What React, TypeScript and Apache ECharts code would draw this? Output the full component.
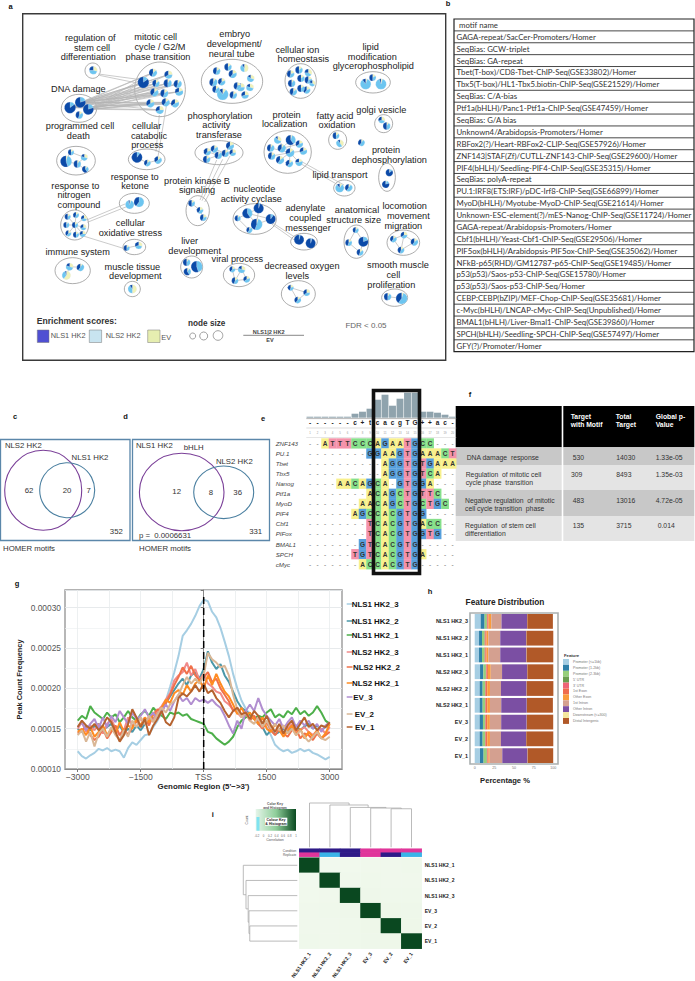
import React, { useEffect, useRef } from "react";
import * as echarts from "echarts";

const F = "Liberation Sans";

// ---------- panel g: peak count frequency (values in 1e-5 units)
const tssX = [-3000,-2900,-2800,-2700,-2600,-2500,-2400,-2300,-2200,-2100,-2000,-1900,-1800,-1700,-1600,-1500,-1400,-1300,-1200,-1100,-1000,-900,-800,-700,-600,-500,-400,-300,-200,-100,0,100,200,300,400,500,600,700,800,900,1000,1100,1200,1300,1400,1500,1600,1700,1800,1900,2000,2100,2200,2300,2400,2500,2600,2700,2800,2900,3000];
const nls1_3 = [12.2,11.6,11.3,11.7,12.0,12.5,12.3,12.6,12.2,12.4,12.2,11.4,12.6,13.3,13.0,13.6,14.2,14.3,15.2,16.0,17.0,18.5,20.2,22.0,24.0,26.5,27.2,28.0,29.0,30.2,31.0,30.8,29.5,28.8,27.5,25.8,24.0,21.8,20.0,18.5,17.5,16.8,16.2,16.0,15.8,15.2,14.2,13.0,12.5,12.2,12.4,12.0,12.2,12.5,12.2,12.4,12.0,11.8,11.5,11.2,11.5];
const nls1_2 = [15.0,14.6,15.4,14.8,15.3,15.6,14.9,15.2,15.6,14.7,15.4,14.5,15.0,14.6,15.4,14.8,15.6,15.9,16.2,16.8,17.4,18.2,19.0,19.8,20.6,21.2,20.4,21.6,22.0,21.2,22.4,24.6,23.2,22.4,23.0,21.6,20.8,19.6,18.4,17.6,17.2,16.8,16.4,15.6,15.2,14.2,14.8,14.3,14.6,15.0,14.5,15.2,15.4,14.8,15.3,15.6,15.0,15.4,14.8,15.2,15.6];
const nls1_1 = [16.0,16.6,16.2,17.8,17.0,16.6,16.2,17.0,16.4,16.8,15.8,16.4,17.2,16.4,16.0,16.8,17.2,16.6,17.6,17.0,16.6,16.2,17.0,16.8,17.0,16.6,16.8,16.2,16.0,15.8,15.6,14.6,14.4,13.8,13.4,13.0,13.4,14.0,15.2,16.0,16.4,16.8,16.2,16.6,16.4,17.0,17.4,16.4,16.8,16.4,17.2,16.8,17.6,16.8,17.2,16.6,17.0,17.8,17.0,16.0,15.6];
const nls2_3 = [15.0,15.8,14.6,15.4,14.8,15.6,14.4,15.6,16.2,15.0,14.2,14.8,16.4,15.4,15.8,16.2,15.6,16.4,16.0,17.2,17.8,18.6,19.4,21.0,21.6,22.0,23.2,21.6,22.4,21.0,21.8,20.6,20.2,19.6,19.4,18.4,18.0,17.4,17.0,16.4,17.2,16.2,16.6,15.8,15.2,15.8,15.0,15.6,14.8,15.4,15.0,15.6,14.4,14.8,15.2,14.6,14.2,14.8,15.0,14.4,15.2];
const nls2_2 = [14.4,14.8,15.2,14.2,13.6,14.0,15.0,13.8,14.6,15.4,14.2,15.0,14.2,15.2,16.0,15.2,16.4,15.4,16.8,17.4,17.0,18.2,19.2,20.4,21.4,22.6,21.8,22.8,21.6,21.0,21.4,22.0,20.8,21.2,20.0,19.2,18.4,17.2,17.6,16.6,17.0,16.0,16.6,15.6,15.0,15.8,14.8,14.2,15.0,14.4,14.0,14.8,15.0,13.8,14.4,14.2,13.6,14.4,13.8,14.2,14.6];
const nls2_1 = [14.6,15.0,14.2,15.2,14.0,14.6,15.4,14.2,15.0,14.4,15.8,14.6,15.4,15.0,16.2,15.4,16.4,15.8,17.0,16.6,17.6,18.6,18.2,19.4,19.8,19.2,20.4,19.6,20.6,21.0,20.0,21.6,20.4,21.8,20.6,19.6,19.0,18.0,16.8,17.6,16.6,17.0,16.2,15.6,16.4,15.0,14.6,15.6,14.8,14.0,14.8,15.4,14.2,15.0,13.8,14.6,14.0,14.8,13.8,14.4,15.6];
const ev_3 = [15.2,15.8,14.8,15.6,16.2,15.0,16.4,15.2,16.6,15.8,17.2,16.4,15.6,17.0,16.2,16.6,17.4,16.4,17.0,16.2,17.2,18.0,17.2,18.4,19.2,18.4,18.8,18.0,18.8,18.4,18.6,18.2,18.6,18.0,17.6,16.6,15.4,14.4,16.0,15.0,17.2,18.0,17.2,18.8,17.4,16.6,16.0,15.4,16.2,15.0,15.8,16.4,15.2,16.0,15.4,16.0,15.0,15.6,14.6,15.4,15.8];
const ev_2 = [14.2,14.8,13.4,14.6,12.8,14.4,15.0,14.0,15.2,14.2,13.6,14.8,14.0,16.0,15.2,16.4,15.6,16.6,15.8,16.8,17.6,17.0,18.0,18.4,19.2,20.4,21.4,20.6,21.2,20.6,21.6,24.4,23.6,23.2,22.6,22.8,21.6,19.2,17.4,16.4,17.0,16.0,15.6,16.4,15.2,16.0,15.0,15.6,14.8,15.4,14.4,15.0,14.2,14.8,14.0,13.4,14.0,14.6,13.8,13.6,14.0];
const ev_1 = [15.2,16.0,15.4,15.0,15.6,14.8,15.4,16.4,15.8,14.6,13.4,14.2,15.6,17.4,16.4,15.2,16.2,14.2,15.4,16.2,17.2,15.8,15.4,16.4,18.8,19.4,19.0,19.6,20.4,19.6,20.6,19.4,19.8,18.8,18.2,17.2,16.4,17.2,17.6,16.8,17.0,16.2,17.2,16.6,15.6,16.6,15.4,14.6,15.6,14.4,15.4,16.0,14.8,15.6,16.4,15.2,15.6,14.8,15.4,15.2,15.8];
const gNames = ["NLS1 HK2_3","NLS1 HK2_2","NLS1 HK2_1","NLS2 HK2_3","NLS2 HK2_2","NLS2 HK2_1","EV_3","EV_2","EV_1"];
const gColors = ["#a6cee3","#4a97a8","#4daf4a","#f08a8a","#f0704a","#ff8c22","#b18ed0","#d9b796","#b5622f"];
const gValues = [nls1_3,nls1_2,nls1_1,nls2_3,nls2_2,nls2_1,ev_3,ev_2,ev_1];
const gXLabels = [-3000,-1500,0,1500,3000];
const gXGrid = [-3000,-2250,-1500,-750,0,750,1500,2250,3000];
const gLegendY = [604,621,635,652,667,683,697,714,727];
const gLegendX = [351.7,351.7,351.7,351.7,353,352,353.3,354.7,355];

// ---------- panel h: feature distribution
const hCats = ["NLS1 HK2_3","NLS1 HK2_2","NLS1 HK2_1","NLS2 HK2_3","NLS2 HK2_2","NLS2 HK2_1","EV_3","EV_2","EV_1"];
const hFeatures = ["Promoter (<=1kb)","Promoter (1-2kb)","Promoter (2-3kb)","5' UTR","3' UTR","1st Exon","Other Exon","1st Intron","Other Intron","Downstream (<=300)","Distal Intergenic"];
const hColors = ["#a6cee3","#2f7fa8","#97cf7b","#6a9e4f","#ee6677","#ef6b4e","#f99b3c","#d4a090","#7b4fa3","#f5e79e","#b15928"];
const hValues = [
  [7.6,5.0,2.5,0.5,1.0,1.0,3.5,13.0,32.5,0.3,32.6],
  [5.5,3.8,3.0,0.5,0.7,1.5,2.5,15.0,33.0,0.3,34.2],
  [5.5,3.8,3.0,0.5,0.7,1.5,2.5,15.0,33.2,0.3,34.0],
  [6.8,4.2,3.0,0.5,0.8,1.5,3.6,14.4,32.0,0.2,33.0],
  [6.3,3.8,3.0,0.5,0.8,1.6,3.4,14.0,32.5,0.2,34.0],
  [6.3,3.8,3.0,0.5,0.8,1.6,3.4,14.4,32.5,0.2,33.0],
  [6.3,4.2,2.5,0.5,0.8,1.6,3.4,14.4,32.5,0.2,33.5],
  [6.3,3.8,3.0,0.5,0.8,1.6,3.4,14.0,32.0,0.2,34.4],
  [6.7,4.6,3.8,0.5,0.6,1.4,1.5,16.0,32.0,0.2,32.6],
];
const hTicks = [0,25,50,75,100];

// ---------- panel i: correlation heatmap
const iCols = ["NLS1 HK2_1","NLS1 HK2_2","NLS1 HK2_3","EV_3","EV_2","EV_1"];
const iMatrix = [
  [1,0.06,0.07,0.09,0.08,0.10],
  [0.06,1,0.08,0.10,0.09,0.09],
  [0.07,0.08,1,0.11,0.10,0.10],
  [0.09,0.10,0.11,1,0.12,0.11],
  [0.08,0.09,0.10,0.12,1,0.12],
  [0.10,0.09,0.10,0.11,0.12,1],
];
const iAnnotRows = ["Condition","Replicate"];
const iCondition = [0,0,0,1,1,1];
const iReplicate = [1,2,0,1,0,2];
// merges: [leftLeaf, rightLeaf, leftHeight, rightHeight, mergeHeight]
const topMerges = [
  [4.5,5.5,0,0,0.87],[3.5,5,0,0.87,0.886],[2.5,4.25,0,0.886,0.90],[1.5,3.375,0,0.90,0.955],[0.5,2.44,0,0.955,1],
];
const leftMerges = [
  [4.5,5.5,0,0,0.88],[3.5,5,0,0.88,0.895],[2.5,4.25,0,0.895,0.91],[1.5,3.375,0,0.91,0.95],[0.5,2.44,0,0.95,1],
];

// ---------- panel e: motif alignment
const eNames = ["ZNF143","PU.1","Tbet","Tbx5","Nanog","Ptf1a","MyoD","PIF4","Cbf1","PIFox","BMAL1","SPCH","cMyc"];
const eSeqs = [
  "--ATTTCCCAGAATGCC---","--------GGAAGTGAAACT","----------AGGTGTGAAA","----------AGGTGTCA--",
  "----AACAGCA-GTGGA---","--------ACAGCTGTTC--","-------AACAGCTGCTGC-","------AGCCACGTGG----",
  "--------TCACGTGACC--","--------TCACGTGGTG--","-------GTCACGTG-----","------TGTCACGTGA----","-------ACCACGTG-----",
];
const eConsensus = "------c+tcacgTG++ac-";
const eHist = [1,1,1,1,1,1,4,6,9,18,23,12,19,25,25,6,6,5,3,1];
const eLetterColor: any = { A:"#f8f08c", C:"#86e08a", G:"#569fdc", T:"#f492aa" };

// ---------- panel b
const motifNames = ["motif name","GAGA-repeat/SacCer-Promoters/Homer","SeqBias: GCW-triplet","SeqBias: GA-repeat","Tbet(T-box)/CD8-Tbet-ChIP-Seq(GSE33802)/Homer","Tbx5(T-box)/HL1-Tbx5.biotin-ChIP-Seq(GSE21529)/Homer","SeqBias: C/A-bias","Ptf1a(bHLH)/Panc1-Ptf1a-ChIP-Seq(GSE47459)/Homer","SeqBias: G/A bias","Unknown4/Arabidopsis-Promoters/Homer","RBFox2(?)/Heart-RBFox2-CLIP-Seq(GSE57926)/Homer","ZNF143|STAF(Zf)/CUTLL-ZNF143-ChIP-Seq(GSE29600)/Homer","PIF4(bHLH)/Seedling-PIF4-ChIP-Seq(GSE35315)/Homer","SeqBias: polyA-repeat","PU.1:IRF8(ETS:IRF)/pDC-Irf8-ChIP-Seq(GSE66899)/Homer","MyoD(bHLH)/Myotube-MyoD-ChIP-Seq(GSE21614)/Homer","Unknown-ESC-element(?)/mES-Nanog-ChIP-Seq(GSE11724)/Homer","GAGA-repeat/Arabidopsis-Promoters/Homer","Cbf1(bHLH)/Yeast-Cbf1-ChIP-Seq(GSE29506)/Homer","PIF5ox(bHLH)/Arabidopsis-PIF5ox-ChIP-Seq(GSE35062)/Homer","NFkB-p65(RHD)/GM12787-p65-ChIP-Seq(GSE19485)/Homer","p53(p53)/Saos-p53-ChIP-Seq(GSE15780)/Homer","p53(p53)/Saos-p53-ChIP-Seq/Homer","CEBP:CEBP(bZIP)/MEF-Chop-ChIP-Seq(GSE35681)/Homer","c-Myc(bHLH)/LNCAP-cMyc-ChIP-Seq(Unpublished)/Homer","BMAL1(bHLH)/Liver-Bmal1-ChIP-Seq(GSE39860)/Homer","SPCH(bHLH)/Seedling-SPCH-ChIP-Seq(GSE57497)/Homer","GFY(?)/Promoter/Homer"];

// ---------- panel a: network (layout in 3x page units)
const nodesDna = [[210,323,17,.85,.15,0],[241,307,16,.8,.2,0],[265,328,16,.8,.2,0],[238,345,11,.45,.4,.15]];
const nodesMitotic = [[430,247,17,.85,.15,0],[459,218,12,.45,.4,.15],[505,224,12,.35,.4,.25],[533,252,12,.45,.45,.1],[503,250,12,.5,.4,.1],[463,277,12,.4,.45,.15],[493,280,12,.45,.4,.15],[537,275,12,.3,.5,.2],[451,310,12,.35,.45,.2],[497,307,12,.4,.45,.15],[525,310,12,.35,.45,.2],[479,330,12,.3,.45,.25],[468,250,11,.45,.4,.15]];
const nodesOther = [
  [280,211,12,.25,.45,.3],
  [650,213,11,.45,.4,.15],[684,201,11,.5,.35,.15],[733,204,12,.1,.4,.5],[640,247,12,.45,.45,.1],[665,245,11,.4,.4,.2],[698,222,12,.4,.4,.2],[722,262,12,.3,.45,.25],[752,235,11,.15,.55,.3],[750,262,11,.2,.5,.3],[668,283,17,.1,.8,.1],[712,258,11,.45,.35,.2],[648,268,11,.45,.4,.15],[735,285,11,.3,.45,.25],[700,285,11,.45,.4,.15],
  [872,222,11,.45,.35,.2],[897,210,11,.5,.35,.15],[925,218,11,.25,.4,.35],[875,250,11,.5,.4,.1],[903,235,11,.5,.35,.15],[925,240,11,.45,.35,.2],[880,275,11,.45,.4,.15],[920,270,11,.4,.4,.2],[903,265,11,.5,.35,.15],[937,250,9,.2,.45,.35],
  [1097,252,16,.1,.85,.05],[1118,233,10,.5,.35,.15],[1143,252,16,.05,.9,.05],
  [622,455,11,.4,.4,.2],[643,447,11,.4,.45,.15],[620,478,11,.5,.35,.15],[655,466,11,.45,.45,.1],[676,460,11,.45,.4,.15],[690,437,12,.4,.4,.2],[698,458,10,.35,.4,.25],
  [833,420,11,.1,.6,.3],[872,420,15,.6,.35,.05],[898,432,11,.35,.45,.2],[812,444,11,.45,.45,.1],[845,445,12,.4,.5,.1],[870,458,13,.3,.55,.15],[910,453,11,.3,.5,.2],[815,468,11,.45,.4,.15],[840,480,12,.4,.45,.15],[868,490,11,.4,.45,.15],[897,487,11,.25,.55,.2],
  [1008,407,10,.5,.35,.15],[1020,430,11,.1,.5,.4],[1084,428,10,.4,.5,.1],[1145,360,10,.3,.4,.3],[1160,378,11,.5,.4,.1],
  [1168,518,11,.85,.1,.05],[1157,553,11,.8,.15,.05],
  [411,472,16,.9,.1,0],[442,489,10,.4,.45,.15],[474,480,11,.35,.5,.15],
  [198,484,17,.55,.4,.05],[213,457,9,.5,.35,.15],[253,472,10,.2,.5,.3],[232,492,11,.5,.4,.1],[256,508,10,.6,.3,.1],
  [389,614,13,.05,.9,.05],[417,606,15,.4,.6,0],
  [203,650,9,.5,.35,.15],[228,645,9,.45,.4,.15],[252,655,9,.3,.4,.3],[199,675,9,.5,.4,.1],[225,675,9,.5,.35,.15],[250,682,9,.3,.4,.3],[205,700,9,.4,.4,.2],[228,704,9,.5,.35,.15],[248,702,9,.3,.45,.25],
  [380,744,9,.5,.35,.15],[416,736,11,.3,.4,.3],
  [1019,564,13,.1,.8,.1],[1046,563,11,.4,.5,.1],
  [575,610,10,.5,.35,.15],[600,631,10,.4,.4,.2],[610,653,10,.45,.35,.2],
  [776,625,15,.95,.05,0],[742,640,15,.6,.4,0],[812,657,15,.9,.1,0],[713,655,9,.5,.4,.1],[770,673,17,.45,.5,.05],[748,690,9,.4,.5,.1],
  [897,719,15,.95,.05,0],[932,730,15,.95,.05,0],
  [1067,690,9,.45,.4,.15],[1090,725,15,.8,.2,0],[1046,728,10,.45,.4,.15],[1080,757,10,.45,.4,.15],
  [1180,717,10,.4,.45,.15],[1212,705,10,.35,.4,.25],[1243,726,11,.4,.45,.15],[1203,750,10,.45,.4,.15],
  [560,787,11,.5,.4,.1],[590,800,17,.55,.45,0],[562,815,11,.6,.3,.1],
  [697,808,9,.4,.4,.2],[725,808,11,.2,.5,.3],[705,842,10,.45,.4,.15],[740,838,10,.35,.45,.2],
  [209,800,11,.2,.5,.3],[241,802,11,.4,.5,.1],[199,826,13,.05,.35,.6],
  [397,867,13,.1,.4,.5],
  [872,863,9,.45,.35,.2],[920,878,10,.35,.4,.25],[893,900,10,.4,.45,.15],
  [1163,890,11,.5,.4,.1],[1205,895,17,.4,.55,.05],
];
const groupEllipses = [[278,212,23,23],[480,268,76,82],[696,244,92,66],[902,243,47,52],[1119,247,52,32],[237,325,53,42],[657,458,72,36],[863,456,71,64],[1013,420,27,28],[1151,371,27,27],[1161,532,25,42],[440,478,55,31],[228,482,58,43],[403,610,45,30],[224,675,42,45],[1033,564,32,24],[593,632,35,45],[764,657,65,46],[912,725,40,25],[1069,725,37,50],[1210,728,49,38],[403,741,34,23],[575,801,33,33],[717,825,47,35],[218,812,53,39],[397,867,24,23],[895,882,51,40],[1184,893,39,26]];
const extraEdges = [[295,222,430,240],[298,226,440,255],[478,345,468,455],[500,312,474,470],[600,600,650,480],[606,602,668,478],[614,606,690,468],[260,660,375,612],[262,667,380,620],[250,708,370,745],[900,490,1015,555],[905,485,1032,555],[812,665,895,718],[815,672,890,725],[210,457,198,484],[213,457,253,472],[198,484,232,492],[232,492,256,508],[253,472,232,492],[411,472,442,489],[442,489,474,480],[1067,690,1090,725],[1067,690,1046,728],[1090,725,1080,757],[1046,728,1080,757],[1180,717,1212,705],[1212,705,1243,726],[1243,726,1203,750],[1180,717,1203,750],[1212,705,1203,750],[697,808,725,808],[697,808,705,842],[725,808,740,838],[705,842,740,838],[725,808,705,842],[872,863,920,878],[872,863,893,900],[920,878,893,900],[1163,890,1205,895],[209,800,199,826],[241,802,209,800],[575,610,600,631],[600,631,610,653],[380,744,416,736],[1019,564,1046,563],[713,655,776,625],[742,640,812,657],[742,640,770,673],[776,625,770,673],[812,657,770,673],[713,655,748,690],[770,673,748,690],[833,420,870,458],[872,420,845,445],[898,432,845,445],[812,444,870,458],[910,453,870,458],[815,468,870,458],[840,480,870,458],[868,490,870,458],[897,487,870,458],[872,420,870,458],[622,455,655,466],[643,447,676,460],[620,478,655,466],[655,466,676,460],[676,460,690,437],[203,650,225,675],[228,645,225,675],[252,655,225,675],[199,675,225,675],[250,682,225,675],[205,700,225,675],[228,704,225,675],[248,702,225,675]];
const netLabels: any[] = [["regulation of",271,114],["stem cell",276,143],["differentiation",265,172],["mitotic cell",467,111],["cycle / G2/M",480,141],["phase transition",474,170],["embryo",704,103],["development/",703,132],["neural tube",695,161],["cellular ion",892,149],["homeostasis",910,178],["lipid",1112,140],["modification",1117,170],["glycerophospholipid",1120,199],["DNA damage",235,267],["programmed cell",240,379],["death",235,408],["cellular",440,378],["catabolic",447,407],["process",442,436],["phosphorylation",660,347],["activity",649,376],["transferase",657,405],["protein",860,344],["localization",854,373],["fatty acid",1005,347],["oxidation",1011,376],["golgi vesicle",1144,329],["protein",1158,451],["dephosphorylation",1168,481],["lipid transport",1020,524],["response to",404,530],["ketone",405,559],["response to",226,557],["nitrogen",222,586],["compound",237,615],["protein kinase B",591,542],["signaling",591,571],["nucleotide",763,567],["activity cyclase",754,596],["adenylate",916,625],["coupled",916,655],["messenger",924,685],["anatomical",1071,630],["structure size",1061,660],["locomotion",1214,618],["movement",1225,648],["migration",1210,677],["cellular",391,670],["oxidative stress",391,699],["liver",569,724],["development",584,754],["immune system",233,757],["viral process",712,776],["muscle tissue",397,800],["development",406,829],["decreased oxygen",906,798],["levels",892,827],["smooth muscle",1194,795],["cell",1180,825],["proliferation",1174,854]];

// ---------- panel f
const fHeaders: any[] = [["Target",570.7,416],["with Motif",570.7,424.3],["Total",615.7,416],["Target",615.7,424.3],["Global p-",655.7,416],["Value",655.7,424.3]];
const fCells: any[] = [["DNA damage  response",466.7,457.3],["530",572.7,457],["14030",616.3,457],["1.33e-05",655.7,457],["Regulation  of mitotic cell",465.7,474.3],["cycle phase  transition",465.7,482.3],["309",571,474.3],["8493",616.3,474.3],["1.35e-03",655.7,474.3],["Negative regulation  of mitotic",465,500],["cell cycle transition  phase",465,508.3],["483",572.7,500],["13016",616.3,500],["4.72e-05",655.7,500],["Regulation  of stem cell",465,525],["differentiation",465,533.3],["135",572.7,525],["3715",616.3,525],["0.014",657.7,525]];

const T = (text: string, x: number, y: number, o: any = {}) => ({
  type: "text", x, y, z: o.z ?? 60, silent: true, rotation: o.r ?? 0,
  style: { text, fontFamily: o.f ?? F, fontSize: o.s ?? 8, fill: o.c ?? "#222", fontWeight: o.w ?? "normal", fontStyle: o.i ?? "normal",
    textAlign: o.a ?? "left", textVerticalAlign: "middle", align: o.a ?? "left", verticalAlign: "middle" },
});
const R = (x: number, y: number, w: number, h: number, style: any, z = 1) => ({ type: "rect", z, silent: true, shape: { x, y, width: w, height: h }, style });
const C = (cx: number, cy: number, r: number, stroke: string, lw: number, z = 3, rx?: number) => (
  rx ? { type: "ellipse", z, silent: true, shape: { cx, cy, rx, ry: r }, style: { fill: "none", stroke, lineWidth: lw } }
     : { type: "circle", z, silent: true, shape: { cx, cy, r }, style: { fill: "none", stroke, lineWidth: lw } });
const L = (x1: number, y1: number, x2: number, y2: number, stroke: string, lw = 1, z = 4) => ({ type: "line", z, silent: true, shape: { x1, y1, x2, y2 }, style: { stroke, lineWidth: lw } });

function buildGraphic() {
  const g: any[] = [];
  // panel letters
  ([["a",10.7,6.5],["b",448,3.5],["c",15,416],["d",125.6,416],["e",263,418],["f",470,394],["g",17,583],["h",430,591],["i",212.7,814]] as any[]).forEach(([t,x,y]) => g.push(T(t,x,y,{s:7.5,w:"bold",a:"center",c:"#111"})));
  // panel a frame + labels + legend
  g.push(R(22.7,13.7,423,346.5,{fill:"none",stroke:"#3a3a3a",lineWidth:1.4},2));
  netLabels.forEach(([t,x,y]) => g.push(T(t,x/3,y/3,{s:9.2,a:"center",c:"#222"})));
  g.push(T("Enrichment scores:",36.7,320.5,{s:8.6,w:"bold",c:"#333"}));
  g.push(R(37.3,330,11.7,12.5,{fill:"#4f4fd2",stroke:"#777",lineWidth:.5}));
  g.push(R(89.3,330,12.3,12.5,{fill:"#c8e4f0",stroke:"#777",lineWidth:.5}));
  g.push(R(147.7,330,12.3,12.5,{fill:"#e6eeb0",stroke:"#777",lineWidth:.5}));
  g.push(T("NLS1 HK2",50.7,335.5,{s:7.4,c:"#555"}));
  g.push(T("NLS2 HK2",105.7,335.5,{s:7.4,c:"#555"}));
  g.push(T("EV",161.3,337,{s:7.4,c:"#555"}));
  g.push(T("node size",206.7,323.5,{s:8.2,w:"bold",a:"center",c:"#333"}));
  g.push(C(192.7,336,3,"#888",.8),C(203.7,336,4,"#888",.8),C(218,335.5,4.8,"#888",.8));
  g.push(T("NLS1|2 HK2",268.7,331.5,{s:5.6,w:"bold",a:"center",c:"#444"}));
  g.push(L(243.3,335.3,304,335.3,"#555",.7));
  g.push(T("EV",270,340,{s:5.6,w:"bold",a:"center",c:"#444"}));
  g.push(T("FDR < 0.05",366,325.5,{s:8,a:"center",c:"#666"}));
  // panel b table
  const bTop = 19, bH = 332.7 / motifNames.length;
  g.push(R(454,bTop,240,332.7,{fill:"none",stroke:"#222",lineWidth:1.2},2));
  motifNames.forEach((t,i) => {
    if (i > 0) g.push(L(454,bTop+i*bH,694,bTop+i*bH,"#333",.9,2));
    g.push(T(t,i===0?459:456.5,bTop+(i+.5)*bH,{s:7.8,f:"Lato",c:"#333"}));
  });
  // panels c,d
  g.push(R(.5,439.5,129.5,101,{fill:"none",stroke:"#5b87aa",lineWidth:1.3},2));
  g.push(R(132.5,439.5,137,101,{fill:"none",stroke:"#5b87aa",lineWidth:1.3},2));
  g.push(C(43.2,490.3,40,"#7a3f98",1.1,3,38.5),C(67.2,490.2,27.5,"#4a7fa0",1.1));
  g.push(C(181.7,492,38.7,"#7a3f98",1.1,3,42.3),C(223.7,492.3,26.3,"#4a7fa0",1.1,3,30));
  const vs: any[] = [["NLS2 HK2",23.3,445],["NLS1 HK2",90,457],["62",29,490],["20",67,490],["7",88.7,490],["352",116.3,531.7],["HOMER motifs",29,548],["NLS1 HK2",154.3,445.3],["bHLH",193.7,447.3],["NLS2 HK2",234.3,461],["12",176.7,491.7],["8",211,492.3],["36",237.7,492.3],["331",255.7,531.7],["p =  0.0006631",165,535],["HOMER motifs",165,548]];
  vs.forEach(([t,x,y]) => g.push(T(t,x,y,{s:7.8,a:"center",c:"#333"})));
  // panel e labels
  eNames.forEach((n,i) => g.push(T(n,275.7,443.3+i*10.07,{s:6.2,i:"italic",c:"#444"})));
  for (let i = 0; i < 20; i++) {
    const cx = 310 + i * 7.5;
    g.push(T(eConsensus[i],cx,422.7,{s:6.5,w:"bold",a:"center",c:"#222"}));
    g.push(T(String(i+1),cx,433,{s:2.8,a:"center",c:"#999"}));
  }
  g.push(L(306.3,418.6,456.3,418.6,"#888",.6),L(306.3,428,456.3,428,"#bbb",.5),L(306.3,437.5,456.3,437.5,"#ccc",.5));
  g.push(R(373.5,390.5,46,183,{fill:"none",stroke:"#111",lineWidth:3.6},100));
  // panel f table
  g.push(R(455.7,406,106,41.3,{fill:"#000"}),R(563.3,406,131,41.3,{fill:"#000"}));
  ([[447.3,17.7,"#c8c8c8"],[465,25,"#e4e4e4"],[490,26,"#c8c8c8"],[516,25,"#e4e4e4"]] as any[]).forEach(([y,h,c]) => g.push(R(455.7,y,106,h,{fill:c}),R(563.3,y,131,h,{fill:c})));
  fHeaders.forEach(([t,x,y]) => g.push(T(t,x,y,{s:6.8,w:"bold",c:"#fff"})));
  fCells.forEach(([t,x,y]) => g.push(T(t,x,y,{s:6.8,c:"#333"})));
  // panel g legend
  gNames.forEach((n,i) => {
    g.push(L(346.7,gLegendY[i],352.5,gLegendY[i],gColors[i],1.5,5));
    g.push(T(n,gLegendX[i],gLegendY[i],{s:7.9,w:"bold",c:"#111"}));
  });
  // panel h texts
  g.push(T("Feature Distribution",505,601.7,{s:8.3,w:"bold",a:"center",c:"#222"}));
  g.push(T("Percentage %",505,780,{s:7.6,w:"bold",a:"center",c:"#222"}));
  g.push(T("Feature",564,655.3,{s:4.2,w:"bold",c:"#333"}));
  // panel i colour key
  g.push(R(255.7,809,40.3,21.7,{fill:new echarts.graphic.LinearGradient(0,0,1,0,[{offset:0,color:"#e6f5ea"},{offset:.5,color:"#8fce9a"},{offset:1,color:"#0a4a20"}])}));
  g.push(R(256.5,817,3,13.7,{fill:"#7fe3f0"}));
  g.push(R(265,817.7,22.3,8,{fill:"#fff"},2));
  g.push(T("Colour Key",276,819.8,{s:3.6,w:"bold",a:"center"}),T("& Histogram",276,823.6,{s:3.6,w:"bold",a:"center"}));
  g.push(T("Color Key",275,803.5,{s:3.4,w:"bold",a:"center",c:"#555"}),T("and Histogram",275,807.5,{s:3.4,w:"bold",a:"center",c:"#555"}));
  (["-0.2","0","0.2","0.4","0.6","0.8","1"]).forEach((t,i) => g.push(T(t,257+i*6.5,836,{s:2.8,a:"center",c:"#666"})));
  g.push(T("Correlation",275,839.5,{s:3.6,a:"center",c:"#555"}));
  g.push(T("Count",246.7,820,{s:3.4,a:"center",c:"#555",r:Math.PI/2}));
  return g;
}

const netNodes = [...nodesDna, ...nodesMitotic, ...nodesOther];
const fanEdges: number[][] = [];
nodesDna.slice(0,3).forEach(a => nodesMitotic.forEach(b => fanEdges.push([a[0],a[1],b[0],b[1]])));
const netEdges = [...fanEdges, ...extraEdges];

const hiddenVal = (i: number, min: number, max: number, inverse = false) => ({ type: "value", gridIndex: i, min, max, inverse, show: false });

function renderPie(_p: any, api: any) {
  const [cx, cy] = api.coord([api.value(0), api.value(1)]);
  const r = api.size([api.value(2), 0])[0];
  const shares = [[api.value(5), "#f0f2b8"], [api.value(4), "#6cc5f0"], [api.value(3), "#0b4aa8"]];
  let a = -Math.PI / 2;
  const children: any[] = [];
  shares.forEach(([f, color]: any) => {
    if (f <= 0) return;
    children.push({ type: "sector", shape: { cx, cy, r, r0: 0, startAngle: a, endAngle: a + f * Math.PI * 2, clockwise: true }, style: { fill: color, stroke: "#dfe7ee", lineWidth: .2 } });
    a += f * Math.PI * 2;
  });
  return { type: "group", children };
}
function renderEllipse(_p: any, api: any) {
  const [cx, cy] = api.coord([api.value(0), api.value(1)]);
  const s = api.size([api.value(2), api.value(3)]);
  return { type: "ellipse", shape: { cx, cy, rx: s[0], ry: s[1] }, style: { fill: "#fff", stroke: "#8a8a8a", lineWidth: .7 } };
}
function renderEdge(_p: any, api: any) {
  const a = api.coord([api.value(0), api.value(1)]);
  const b = api.coord([api.value(2), api.value(3)]);
  return { type: "line", shape: { x1: a[0], y1: a[1], x2: b[0], y2: b[1] }, style: { stroke: "#b4b4b4", lineWidth: .7 } };
}
function renderTopTree(_p: any, api: any) {
  const [xa, xb, ha, hb, hm] = [0,1,2,3,4].map(i => api.value(i));
  const pts = [api.coord([xa,ha]), api.coord([xa,hm]), api.coord([xb,hm]), api.coord([xb,hb])];
  return { type: "polyline", shape: { points: pts }, style: { fill: "none", stroke: "#aaa", lineWidth: .8 } };
}
function renderLeftTree(_p: any, api: any) {
  const [ya, yb, ha, hb, hm] = [0,1,2,3,4].map(i => api.value(i));
  const pts = [api.coord([ha,ya]), api.coord([hm,ya]), api.coord([hm,yb]), api.coord([hb,yb])];
  return { type: "polyline", shape: { points: pts }, style: { fill: "none", stroke: "#aaa", lineWidth: .8 } };
}
function renderCell(_p: any, api: any) {
  const col = api.value(0), row = api.value(1), ch = eSeqs[row][col];
  const [x, y] = api.coord([col, row]);
  const [w, h] = api.size([1, 1]);
  const cx = x + w / 2, cy = y + h / 2;
  const kids: any[] = [];
  if (ch !== "-") kids.push({ type: "rect", shape: { x, y, width: w + .2, height: h + .2 }, style: { fill: eLetterColor[ch] } });
  kids.push({ type: "text", x: cx, y: cy, style: { text: ch, fontFamily: F, fontSize: 6.5, fontWeight: ch === "-" ? "normal" : "bold", fill: ch === "-" ? "#777" : "#333", textAlign: "center", textVerticalAlign: "middle", align: "center", verticalAlign: "middle" } });
  return { type: "group", children: kids };
}

function buildOption() {
  const grid = [
    { left: 0, top: 0, width: 445, height: 370 },
    { left: 65, top: 590, width: 277, height: 179, show: true, borderColor: "#999", borderWidth: 1.4, backgroundColor: "#fff" },
    { left: 470, top: 613, width: 88, height: 151, show: true, borderColor: "#aab0b0", borderWidth: 1.6, backgroundColor: "#fff" },
    { left: 299.3, top: 857.7, width: 122.4, height: 91 },
    { left: 299.3, top: 848.7, width: 122.4, height: 8 },
    { left: 299.3, top: 803, width: 122.4, height: 44.3 },
    { left: 243.3, top: 857.7, width: 54, height: 91 },
    { left: 306.25, top: 392.7, width: 150, height: 25 },
    { left: 306.25, top: 438.3, width: 150, height: 130.9 },
  ];
  const xAxis: any[] = [
    hiddenVal(0, 0, 1335),
    { type: "value", gridIndex: 1, min: -3302, max: 3293, axisLine: { lineStyle: { color: "#888", width: 1 } }, splitLine: { show: false },
      axisTick: { customValues: gXLabels, length: 3, lineStyle: { color: "#777" } },
      axisLabel: { customValues: gXLabels, fontFamily: F, fontSize: 8.6, color: "#555", margin: 3, formatter: (v: number) => v === 0 ? "TSS" : String(v).replace("-", "−") },
      name: "Genomic Region (5'−>3')", nameLocation: "middle", nameGap: 13, nameTextStyle: { fontFamily: F, fontSize: 7.9, fontWeight: "bold", color: "#222" } },
    { type: "value", gridIndex: 1, min: -3302, max: 3293, axisLine: { show: false }, axisLabel: { show: false }, axisTick: { show: false, customValues: gXGrid }, splitLine: { show: true, lineStyle: { color: "#e8ecee", width: .8 } } },
    { type: "value", gridIndex: 2, min: -6, max: 106, splitLine: { show: false }, axisLine: { show: false },
      axisTick: { customValues: hTicks, length: 1.5, lineStyle: { color: "#888" } }, axisLabel: { customValues: hTicks, fontFamily: F, fontSize: 3.6, color: "#777", margin: 2 } },
    { type: "category", gridIndex: 3, data: iCols, axisLine: { show: false }, axisTick: { show: false }, axisLabel: { fontFamily: F, fontSize: 5, fontWeight: "bold", color: "#222", rotate: 55, margin: 4, interval: 0 } },
    { type: "category", gridIndex: 4, data: iCols, show: false },
    hiddenVal(5, 0, 6),
    hiddenVal(6, 0, 1, true),
    { type: "category", gridIndex: 7, data: eHist.map((_, i) => String(i + 1)), show: false },
    hiddenVal(8, 0, 20),
  ];
  const yAxis: any[] = [
    hiddenVal(0, 0, 1110, true),
    { type: "value", gridIndex: 1, min: 0.0001, max: 0.000322, interval: 0.00005, axisLine: { lineStyle: { color: "#888", width: 1 } },
      axisTick: { length: 3, lineStyle: { color: "#777" } }, minorTick: { show: false, splitNumber: 2 },
      splitLine: { show: true, lineStyle: { color: "#e4e8ea", width: .9 } }, minorSplitLine: { show: true, lineStyle: { color: "#eef1f2", width: .7 } },
      axisLabel: { fontFamily: F, fontSize: 8.4, color: "#555", margin: 4, formatter: (v: number) => v > 0.00031 ? "" : v.toFixed(5) },
      name: "Peak Count Frequency", nameLocation: "middle", nameGap: 42, nameTextStyle: { fontFamily: F, fontSize: 7.4, fontWeight: "bold", color: "#222" } },
    { type: "category", gridIndex: 2, inverse: true, data: hCats, axisLine: { show: false }, axisTick: { length: 1.5, lineStyle: { color: "#888" } }, axisLabel: { fontFamily: F, fontSize: 5.4, fontWeight: "bold", color: "#222", margin: 2, interval: 0 } },
    { type: "category", gridIndex: 3, inverse: true, position: "right", data: iCols, axisLine: { show: false }, axisTick: { show: false }, axisLabel: { fontFamily: F, fontSize: 5, fontWeight: "bold", color: "#222", margin: 3, interval: 0 } },
    { type: "category", gridIndex: 4, inverse: true, data: iAnnotRows, axisLine: { show: false }, axisTick: { show: false }, axisLabel: { fontFamily: F, fontSize: 3.2, color: "#555", margin: 3, interval: 0 } },
    hiddenVal(5, 0, 1),
    hiddenVal(6, 0, 6, true),
    { type: "value", gridIndex: 7, min: 0, max: 25, show: false },
    hiddenVal(8, 0, 13, true),
  ];
  const series: any[] = [];
  const custom = (name: string, xi: number, yi: number, renderItem: any, data: any[], z: number, dims?: number[]) =>
    series.push({ type: "custom", name, xAxisIndex: xi, yAxisIndex: yi, renderItem, data, z, silent: true, clip: false, encode: dims ? { x: dims[0], y: dims[1] } : undefined });
  custom("groups", 0, 0, renderEllipse, groupEllipses, 2, [0, 1]);
  custom("edges", 0, 0, renderEdge, netEdges, 3, [0, 1]);
  custom("nodes", 0, 0, renderPie, netNodes, 4, [0, 1]);
  gNames.forEach((n, i) => series.push({ type: "line", name: n, xAxisIndex: 1, yAxisIndex: 1, symbol: "none", z: 5 + i, silent: true,
    lineStyle: { color: gColors[i], width: 2 }, itemStyle: { color: gColors[i] }, data: gValues[i].map((v, k) => [tssX[k], v * 1e-5]) }));
  series.push({ type: "line", name: "TSS", xAxisIndex: 1, yAxisIndex: 1, symbol: "none", z: 20, silent: true, lineStyle: { color: "#000", width: 1.5, type: [7, 4] }, data: [[0, 0.0001], [0, 0.000316]] });
  hFeatures.forEach((n, fi) => series.push({ type: "bar", name: n, xAxisIndex: 3, yAxisIndex: 2, stack: "h", barWidth: 14.8, silent: true, itemStyle: { color: hColors[fi] }, data: hValues.map(r => r[fi]) }));
  const heatIdx = series.length;
  const heat: any[] = [];
  iMatrix.forEach((row, y) => row.forEach((v, x) => heat.push([x, y, v])));
  series.push({ type: "heatmap", name: "correlation", xAxisIndex: 4, yAxisIndex: 3, data: heat, silent: true });
  const annotIdx = series.length;
  const annot: any[] = [];
  iCondition.forEach((v, x) => annot.push([x, 0, v]));
  iReplicate.forEach((v, x) => annot.push([x, 1, v]));
  series.push({ type: "heatmap", name: "annotation", xAxisIndex: 5, yAxisIndex: 4, data: annot, silent: true });
  custom("topTree", 6, 5, renderTopTree, topMerges, 3);
  custom("leftTree", 7, 6, renderLeftTree, leftMerges, 3);
  series.push({ type: "bar", name: "conservation", xAxisIndex: 8, yAxisIndex: 7, data: eHist, barWidth: "92%", silent: true, itemStyle: { color: "#8fa3ad" } });
  const cells: any[] = [];
  eSeqs.forEach((s, r) => s.split("").forEach((_, c) => cells.push([c, r])));
  custom("cells", 9, 8, renderCell, cells, 3, [0, 1]);
  return {
    animation: false, backgroundColor: "#fff", grid, xAxis, yAxis, series,
    legend: { data: hFeatures, orient: "vertical", left: 563, top: 659, itemWidth: 6, itemHeight: 5.9, itemGap: 0, padding: 0, icon: "rect", selectedMode: false, textStyle: { fontFamily: F, fontSize: 3.6, color: "#777", padding: [0, 0, 0, -1] } },
    visualMap: [
      { show: false, seriesIndex: heatIdx, min: 0, max: 1, dimension: 2, inRange: { color: ["#f5fbf2","#e6f3e0","#9ccd9e","#3a8a50","#0a4820"] } },
      { show: false, type: "piecewise", seriesIndex: annotIdx, dimension: 2, pieces: [{ value: 0, color: "#2e1a87" }, { value: 1, color: "#e0359a" }, { value: 2, color: "#3ab4e8" }] },
    ],
    graphic: { elements: buildGraphic() },
  };
}

export default function App() {
  const ref = useRef<HTMLDivElement>(null);
  useEffect(() => {
    const chart = echarts.init(ref.current!, null, { renderer: "svg" });
    chart.setOption(buildOption() as any);
    return () => chart.dispose();
  }, []);
  return <div ref={ref} style={{ position: "absolute", left: 0, top: 0, width: 695, height: 981, background: "#fff" }} />;
}
